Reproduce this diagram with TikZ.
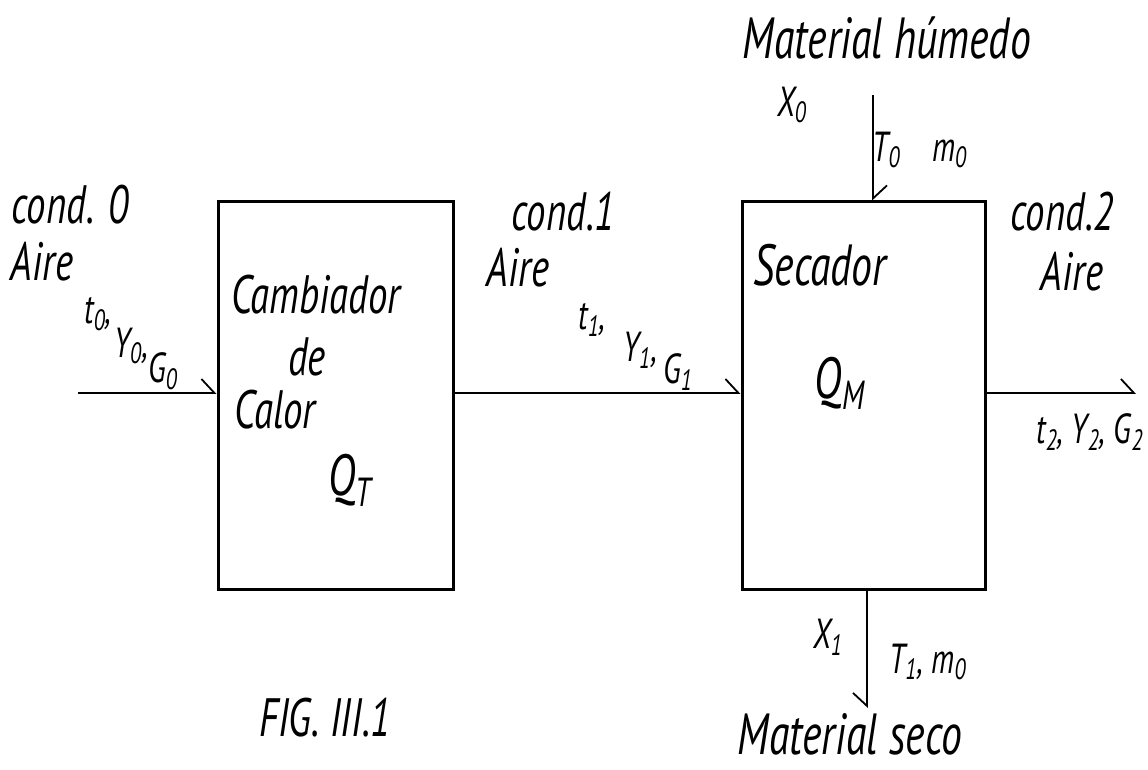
\documentclass[tikz,border=0pt]{standalone}
\usepackage{fontspec}
\setmainfont{PT Sans}[FakeStretch=0.72]
\usepackage{tikz}
\usetikzlibrary{arrows.meta,positioning,calc}
\tikzset{
  flowline/.style={line width=0.9pt, -{Straight Barb[harpoon,length=6.5pt,width=14pt,line width=0.9pt]}},
  flowlinesw/.style={line width=0.9pt, -{Straight Barb[harpoon,swap,length=6.5pt,width=14pt,line width=0.9pt]}},
  unitbox/.style={draw, line width=1.5pt, inner sep=0pt},
  hand/.style={font=\itshape\fontsize{27}{29}\selectfont, inner sep=0pt},
  handbig/.style={font=\itshape\fontsize{29}{31}\selectfont, inner sep=0pt},
  handsmall/.style={font=\itshape\fontsize{21}{23}\selectfont, inner sep=0pt},
}
\newcommand{\sub}[1]{\textsubscript{#1}}

\begin{document}
\begin{tikzpicture}[x=0.5pt,y=-0.5pt]
\path[use as bounding box] (0,0) rectangle (1148,770);

% units
\node[unitbox,minimum width=117.5pt,minimum height=194pt] (cambiador) at (335.5,396) {};
\node[unitbox,minimum width=121.5pt,minimum height=194pt] (secador) at (863.5,396) {};

\node[hand] (lcamb) at (316,295) {Cambiador};
\node[hand] (lde) at (307,357) {de};
\node[hand] (lcalor) at (275,410) {Calor};
\node[handbig] (qt) at (350,480) {Q\sub{T}};
\node[handbig] (lsec) at (820,265) {Secador};
\node[handbig] (qm) at (840,383) {Q\sub{M}};

% air stream
\coordinate (airin) at (78,393);
\coordinate (airout) at (1136,393);
\draw[flowline] (airin) -- (airin -| cambiador.west);
\draw[flowline] (cambiador.east |- airin) -- (secador.west |- airin);
\draw[flowline] (secador.east |- airin) -- (airout);

\node[hand] (c0) at (70,205) {cond. 0};
\node[hand] (a0) at (42,262) {Aire};
\node[handsmall] (t0) at (98,314) {t\sub{0},};
\node[handsmall] (y0) at (131,346) {Y\sub{0},};
\node[handsmall] (g0) at (163,371) {G\sub{0}};

\node[hand] (c1) at (563,212) {cond.1};
\node[hand] (a1) at (518,268) {Aire};
\node[handsmall] (t1) at (592,320) {t\sub{1},};
\node[handsmall] (y1) at (640,350) {Y\sub{1},};
\node[handsmall] (g1) at (678,372) {G\sub{1}};

\node[hand] (c2) at (1062,212) {cond.2};
\node[hand] (a2) at (1072,272) {Aire};
\node[handsmall] (tyg2) at (1090,432) {t\sub{2}, Y\sub{2}, G\sub{2}};

% solid stream
\coordinate (feed) at (873,95);
\coordinate (dry) at (867,708);
\draw[flowline] (feed) -- (feed |- secador.north);
\draw[flowlinesw] (dry |- secador.south) -- (dry);

\node[handbig] (mh) at (887,38) {Material húmedo};
\node[handsmall] (x0) at (792,105) {X\sub{0}};
\node[handsmall] (tm0) at (920,150) {T\sub{0}\;\; m\sub{0}};
\node[handsmall] (x1) at (828,637) {X\sub{1}};
\node[handsmall] (tm1) at (928,662) {T\sub{1}, m\sub{0}};
\node[handbig] (ms) at (850,734) {Material seco};

\node[hand] (fig) at (325,718) {FIG. III.1};
\end{tikzpicture}
\end{document}
